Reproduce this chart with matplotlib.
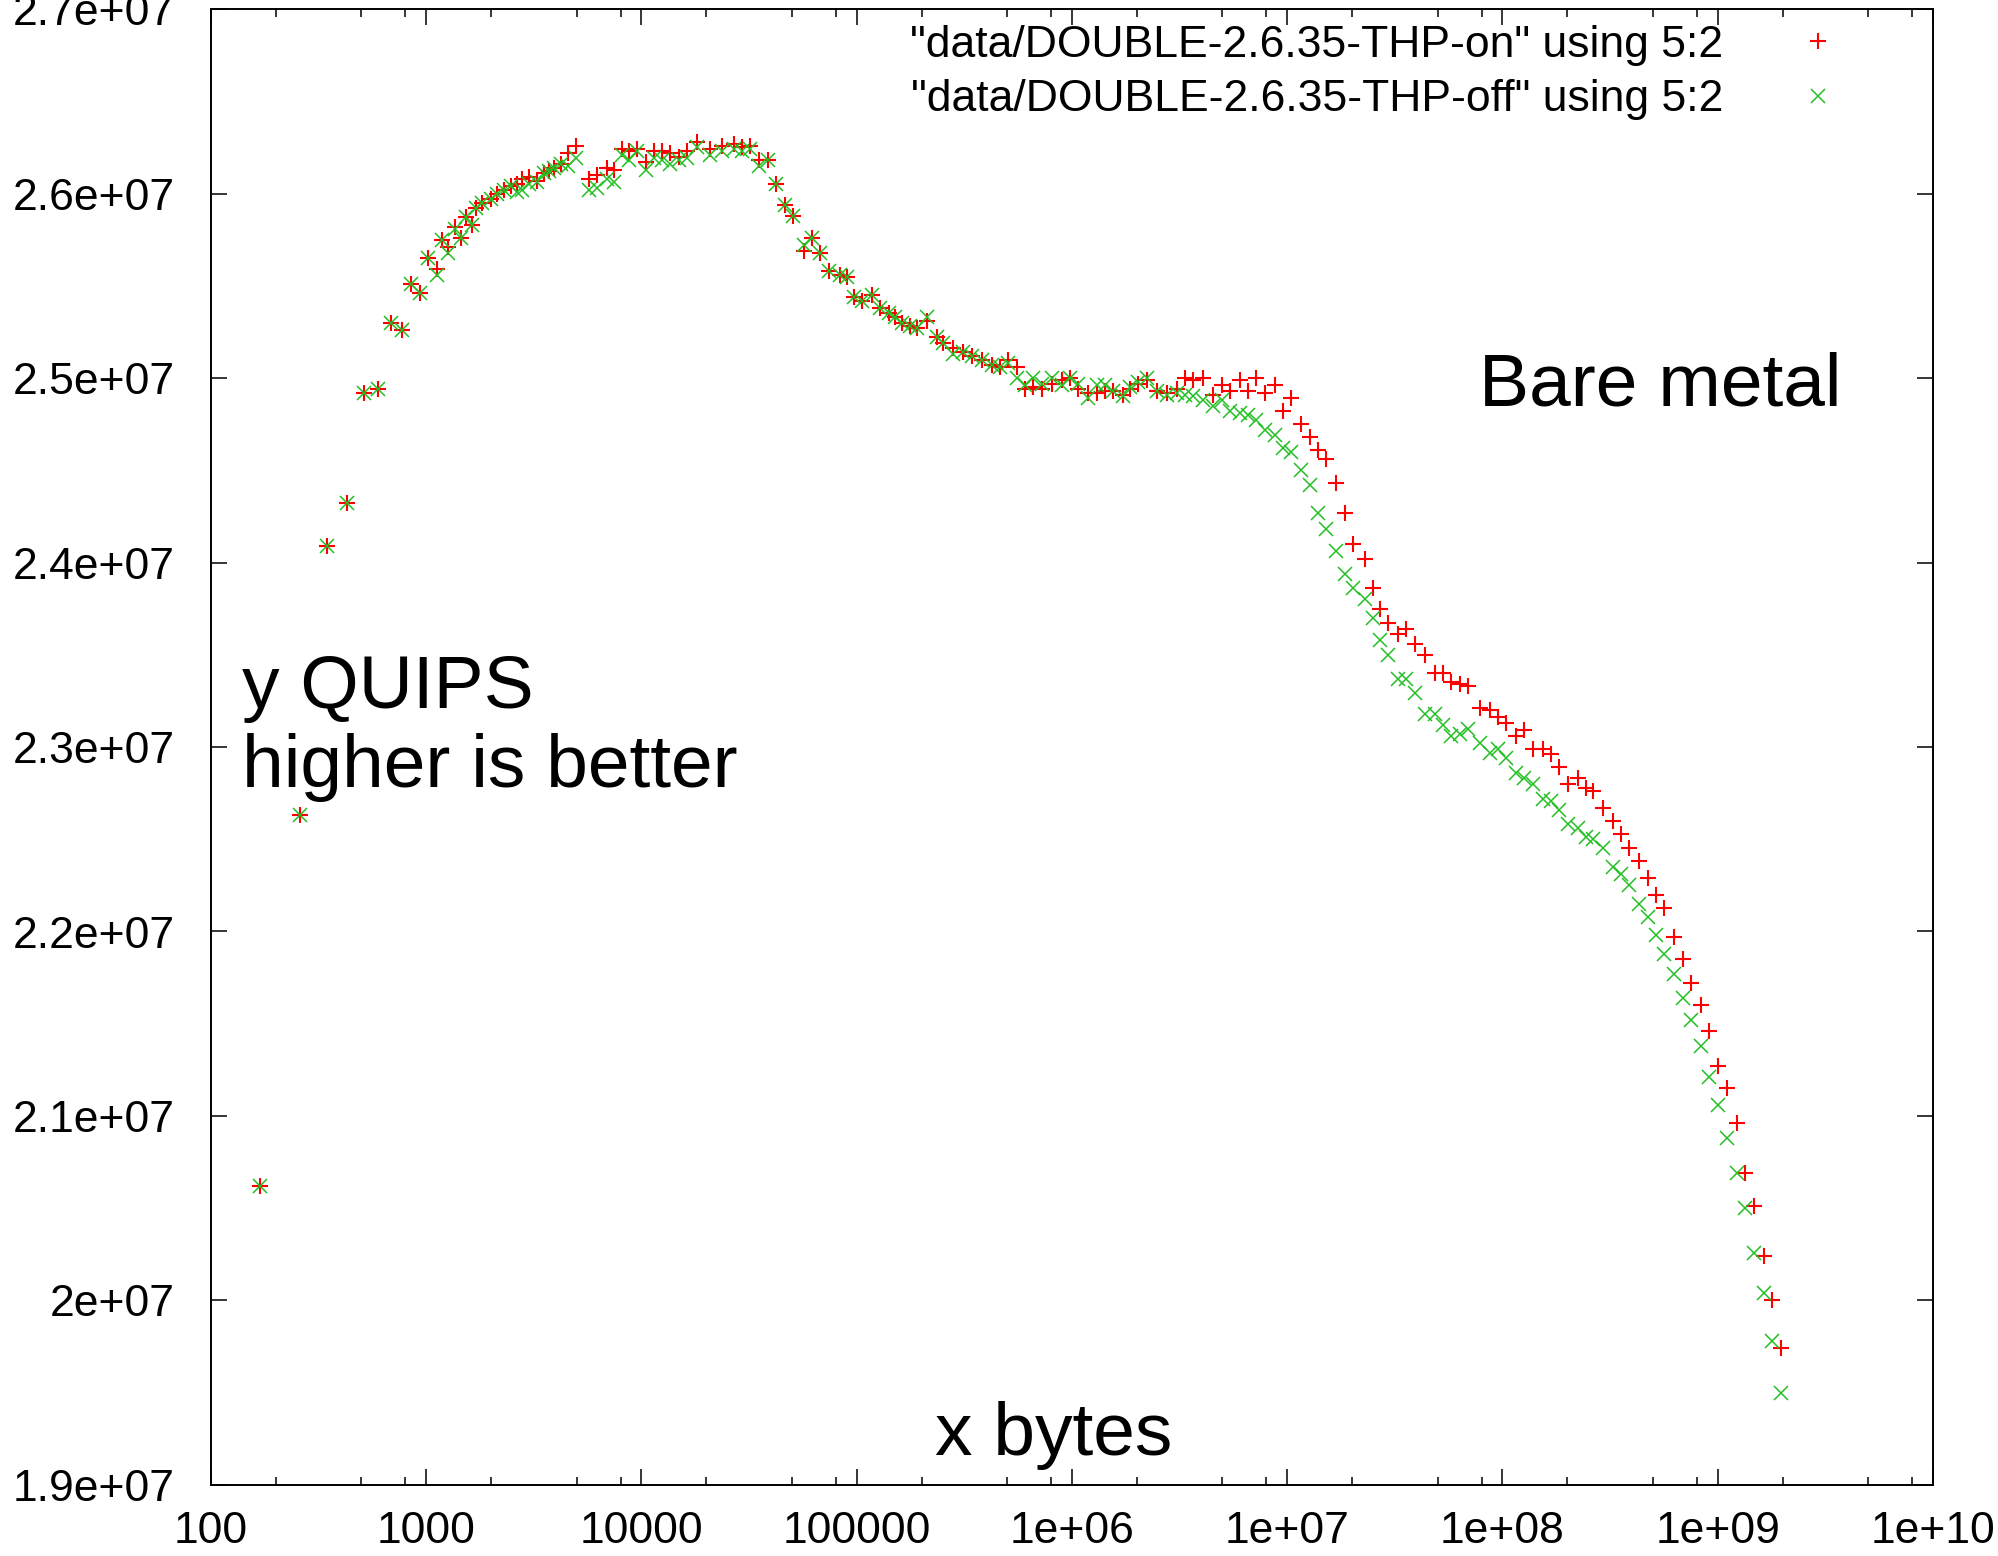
import numpy as np
import matplotlib
matplotlib.use("Agg")
import matplotlib.pyplot as plt
from matplotlib.ticker import LogLocator, MultipleLocator, FuncFormatter, NullFormatter

plt.rcParams['font.family'] = ['Liberation Sans', 'DejaVu Sans']

# HINT DOUBLE run, column 5 (bytes) vs column 2 (QUIPS), values in millions of QUIPS
mem_bytes = [
    169, 259, 345, 427, 513, 595, 684, 768, 852, 937,
    1020, 1119, 1189, 1263, 1360, 1457, 1526, 1639, 1697, 1823,
    1992, 2140, 2296, 2466, 2630, 2795, 3000, 3281, 3522, 3714,
    3917, 4208, 4535, 4940, 5695, 6230, 6932, 7437, 8135, 8733,
    9550, 10438, 11405, 12477, 13634, 14898, 16298, 18139, 20899, 23690,
    26812, 29338, 32048, 35018, 38559, 42317, 46238, 50582, 56624, 61959,
    67701, 73977, 83829, 90050, 96650, 105700, 117600, 128500, 140500, 150900,
    162100, 177200, 190300, 211800, 235600, 252800, 281300, 313100, 342400, 381100,
    424100, 463400, 506300, 553900, 605300, 661300, 723400, 805100, 895900, 978800,
    1.0695e6, 1.190e6, 1.302e6, 1.423e6, 1.555e6, 1.730e6, 1.858e6, 2.031e6, 2.222e6, 2.472e6,
    2.751e6, 3.060e6, 3.345e6, 3.655e6, 4.068e6, 4.526e6, 4.952e6, 5.409e6, 6.020e6, 6.578e6,
    7.196e6, 7.864e6, 8.750e6, 9.562e6, 1.046e7, 1.164e7, 1.272e7, 1.390e7, 1.520e7, 1.692e7,
    1.849e7, 2.020e7, 2.289e7, 2.501e7, 2.687e7, 2.936e7, 3.268e7, 3.574e7, 3.905e7, 4.346e7,
    4.836e7, 5.284e7, 5.780e7, 6.316e7, 6.904e7, 7.823e7, 8.702e7, 9.511e7, 1.040e8, 1.158e8,
    1.265e8, 1.382e8, 1.538e8, 1.683e8, 1.839e8, 2.009e8, 2.236e8, 2.446e8, 2.624e8, 2.921e8,
    3.250e8, 3.555e8, 3.884e8, 4.323e8, 4.723e8, 5.167e8, 5.647e8, 6.284e8, 6.867e8, 7.510e8,
    8.356e8, 9.131e8, 9.979e8, 1.099e9, 1.228e9, 1.342e9, 1.477e9, 1.644e9, 1.796e9, 1.965e9,
]

quips_thp_on = [
    20.62, 22.63, 24.09, 24.32, 24.92, 24.94, 25.30, 25.26, 25.51, 25.46,
    25.65, 25.59, 25.75, 25.71, 25.82, 25.76, 25.87, 25.83, 25.92, 25.95,
    25.97, 26.00, 26.02, 26.04, 26.05, 26.08, 26.09, 26.07, 26.11, 26.12,
    26.14, 26.16, 26.22, 26.26, 26.08, 26.10, 26.14, 26.13, 26.24, 26.23,
    26.24, 26.17, 26.23, 26.23, 26.22, 26.20, 26.23, 26.28, 26.24, 26.26,
    26.27, 26.25, 26.26, 26.18, 26.18, 26.05, 25.94, 25.88, 25.69, 25.76,
    25.68, 25.58, 25.56, 25.55, 25.44, 25.42, 25.45, 25.38, 25.35, 25.33,
    25.30, 25.28, 25.27, 25.31, 25.22, 25.19, 25.16, 25.14, 25.12, 25.10,
    25.07, 25.06, 25.10, 25.06, 24.94, 24.95, 24.94, 24.97, 24.99, 25.00,
    24.94, 24.92, 24.92, 24.93, 24.93, 24.91, 24.94, 24.97, 24.99, 24.93,
    24.92, 24.94, 25.00, 24.99, 25.00, 24.91, 24.96, 24.93, 24.99, 24.93,
    25.00, 24.92, 24.96, 24.82, 24.89, 24.75, 24.68, 24.61, 24.56, 24.43,
    24.27, 24.10, 24.02, 23.86, 23.75, 23.67, 23.61, 23.64, 23.56, 23.50,
    23.40, 23.40, 23.35, 23.34, 23.33, 23.21, 23.20, 23.16, 23.13, 23.06,
    23.09, 22.99, 22.99, 22.96, 22.89, 22.80, 22.83, 22.78, 22.76, 22.67,
    22.60, 22.53, 22.45, 22.38, 22.29, 22.20, 22.13, 21.97, 21.85, 21.72,
    21.60, 21.46, 21.27, 21.15, 20.96, 20.69, 20.51, 20.24, 20.00, 19.74,
]

quips_thp_off = [
    20.62, 22.63, 24.09, 24.32, 24.92, 24.94, 25.30, 25.26, 25.51, 25.46,
    25.65, 25.56, 25.75, 25.68, 25.81, 25.76, 25.87, 25.83, 25.92, 25.95,
    25.97, 26.00, 26.02, 26.04, 26.01, 26.02, 26.05, 26.06, 26.11, 26.12,
    26.14, 26.16, 26.15, 26.19, 26.02, 26.03, 26.08, 26.06, 26.21, 26.18,
    26.23, 26.13, 26.19, 26.18, 26.16, 26.18, 26.19, 26.25, 26.21, 26.23,
    26.24, 26.23, 26.24, 26.15, 26.18, 26.05, 25.94, 25.88, 25.72, 25.76,
    25.68, 25.58, 25.56, 25.55, 25.44, 25.42, 25.45, 25.38, 25.35, 25.33,
    25.30, 25.28, 25.27, 25.33, 25.22, 25.19, 25.13, 25.14, 25.12, 25.10,
    25.07, 25.06, 25.08, 25.00, 24.96, 25.00, 24.97, 25.00, 24.96, 25.00,
    24.97, 24.89, 24.96, 24.96, 24.93, 24.90, 24.95, 24.98, 25.00, 24.93,
    24.91, 24.92, 24.91, 24.90, 24.88, 24.85, 24.88, 24.82, 24.81, 24.80,
    24.77, 24.72, 24.69, 24.62, 24.60, 24.50, 24.42, 24.27, 24.18, 24.06,
    23.94, 23.86, 23.80, 23.70, 23.58, 23.50, 23.37, 23.37, 23.29, 23.18,
    23.18, 23.12, 23.06, 23.07, 23.10, 23.02, 22.97, 22.99, 22.94, 22.86,
    22.83, 22.80, 22.72, 22.71, 22.66, 22.58, 22.56, 22.51, 22.50, 22.45,
    22.35, 22.31, 22.25, 22.15, 22.08, 21.98, 21.88, 21.77, 21.64, 21.52,
    21.38, 21.21, 21.06, 20.88, 20.69, 20.50, 20.26, 20.04, 19.78, 19.50,
]

label_on = '"data/DOUBLE-2.6.35-THP-on" using 5:2'
label_off = '"data/DOUBLE-2.6.35-THP-off" using 5:2'


def gnuplot_fmt(v, pos):
    return '%g' % v


def main():
    W, H = 1999, 1556
    fig = plt.figure(figsize=(W / 100, H / 100), dpi=100)
    left, right, top, bottom = 211, 1933, 9, 1485
    ax = fig.add_axes([left / W, 1 - bottom / H, (right - left) / W, (bottom - top) / H])

    x = np.array(mem_bytes)
    ax.plot(x, np.array(quips_thp_on) * 1e6, linestyle='none', marker='+',
            ms=11, mew=1.5, color='#ff0000', label=label_on)
    ax.plot(x, np.array(quips_thp_off) * 1e6, linestyle='none', marker='x',
            ms=10, mew=1.1, color='#22c022', label=label_off)

    ax.set_xscale('log')
    ax.set_xlim(100, 1e10)
    ax.set_ylim(1.9e7, 2.7e7)
    ax.xaxis.set_major_locator(LogLocator(base=10, numticks=20))
    ax.xaxis.set_minor_locator(LogLocator(base=10, subs=(2, 5, 8), numticks=20))
    ax.xaxis.set_minor_formatter(NullFormatter())
    ax.xaxis.set_major_formatter(FuncFormatter(gnuplot_fmt))
    ax.yaxis.set_major_locator(MultipleLocator(1e6))
    ax.yaxis.set_major_formatter(FuncFormatter(gnuplot_fmt))

    ax.tick_params(which='both', direction='in', top=True, right=True,
                   labelsize=32, colors='black')
    ax.tick_params(which='major', length=11.5, width=1.1)
    ax.tick_params(which='minor', length=5.8, width=1.1)
    ax.tick_params(axis='y', pad=26)
    ax.tick_params(axis='x', pad=19)
    for s in ax.spines.values():
        s.set_linewidth(1.4)

    ax.legend(loc='upper right', bbox_to_anchor=(1878 / W, 1 - 25 / H),
              bbox_transform=fig.transFigure, frameon=False, markerfirst=False,
              borderpad=0, borderaxespad=0, handletextpad=0.78, handlelength=2.7,
              labelspacing=0.3, fontsize=32)

    # gnuplot labels
    fig.text(242 / W, 1 - 708 / H, 'y QUIPS', fontsize=54, va='baseline')
    fig.text(242 / W, 1 - 787 / H, 'higher is better', fontsize=54, va='baseline')
    fig.text(1479 / W, 1 - 405 / H, 'Bare metal', fontsize=54, va='baseline')
    fig.text(935 / W, 1 - 1455 / H, 'x bytes', fontsize=54, va='baseline')

    fig.savefig('out.png', dpi=100)


if __name__ == "__main__":
    main()
